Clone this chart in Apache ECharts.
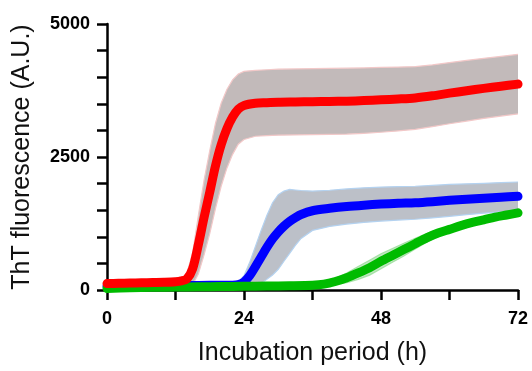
<!DOCTYPE html>
<html>
<head>
<meta charset="utf-8">
<script src="https://cdn.jsdelivr.net/npm/echarts@6/dist/echarts.min.js"></script>
<style>
  html, body { margin: 0; padding: 0; background: #fff; }
  #chart { width: 532px; height: 371px; }
</style>
</head>
<body>
<div id="chart"></div>
<script>
// hours and ThT values (mean, SD)
const redHours = [0, 2, 4, 6, 8, 10, 12, 13, 14, 15, 16, 17, 18, 19, 20, 21, 22, 23, 24, 26, 28, 30, 33, 36, 39, 42, 45, 48, 51, 54, 57, 60, 63, 66, 69, 72]
const redMean = [120, 125, 130, 135, 140, 145, 155, 170, 210, 400, 850, 1360, 1840, 2330, 2730, 3030, 3250, 3400, 3470, 3510, 3520, 3530, 3535, 3540, 3545, 3550, 3560, 3575, 3590, 3610, 3650, 3700, 3745, 3790, 3830, 3870]
const redSd = [30, 30, 30, 30, 30, 30, 30, 40, 100, 300, 550, 700, 780, 800, 780, 740, 700, 660, 640, 620, 620, 620, 620, 620, 620, 620, 615, 610, 600, 590, 580, 575, 570, 565, 560, 560]

const blueHours = [0, 4, 8, 12, 16, 20, 22, 23, 24, 25, 26, 27, 28, 29, 30, 31, 32, 33, 34, 36, 39, 42, 45, 48, 51, 54, 57, 60, 63, 66, 69, 72]
const blueMean = [70, 75, 80, 85, 85, 90, 90, 100, 150, 270, 440, 620, 800, 960, 1090, 1200, 1290, 1360, 1420, 1490, 1535, 1570, 1595, 1615, 1630, 1640, 1660, 1685, 1705, 1725, 1745, 1760]
const blueSd = [15, 15, 15, 15, 15, 20, 30, 50, 120, 250, 380, 500, 600, 680, 700, 660, 600, 520, 450, 370, 340, 330, 325, 320, 315, 310, 305, 300, 290, 280, 275, 270]

const greenHours = [0, 4, 8, 12, 16, 20, 24, 28, 32, 36, 38, 40, 42, 44, 46, 48, 50, 52, 54, 56, 58, 60, 62, 64, 66, 68, 70, 72]
const greenMean = [30, 40, 50, 55, 60, 65, 70, 75, 80, 90, 110, 160, 230, 320, 420, 540, 650, 760, 870, 980, 1070, 1140, 1210, 1270, 1320, 1370, 1410, 1450]
const greenSd = [15, 15, 15, 15, 15, 15, 15, 15, 20, 25, 40, 60, 90, 120, 140, 140, 130, 120, 100, 80, 70, 60, 50, 45, 40, 40, 40, 40]

const xTicks = [0, 24, 48, 72]
const yTicks = [0, 2500, 5000]

const FONT = '"Liberation Sans", Arial, sans-serif'

// mean ± SD band, drawn as one polygon through the axis scales
function band(hours, mean, sd, fill, edge) {
  return {
    type: 'custom',
    silent: true,
    z: 1,
    data: [[hours[0], mean[0]]],
    clip: true,
    renderItem: (params, api) => {
      const up = hours.map((t, i) => api.coord([t, mean[i] + sd[i]]))
      const lo = hours.map((t, i) => api.coord([t, mean[i] - sd[i]]))
      return {
        type: 'group',
        children: [
          { type: 'polygon', shape: { points: up.concat(lo.slice().reverse()) }, style: { fill: fill } },
          { type: 'polyline', shape: { points: up }, style: { stroke: edge, lineWidth: 1.2, fill: null } },
          { type: 'polyline', shape: { points: lo }, style: { stroke: edge, lineWidth: 1.2, fill: null } },
        ],
      }
    },
  }
}

function meanLine(hours, mean, color) {
  return {
    type: 'line',
    data: hours.map((t, i) => [t, mean[i]]),
    symbol: 'none',
    smooth: 0.3,
    z: 3,
    lineStyle: { color: color, width: 9, cap: 'round', join: 'round' },
  }
}

const chart = echarts.init(document.getElementById('chart'), null, { renderer: 'canvas' })

chart.setOption({
  animation: false,
  backgroundColor: '#fff',
  grid: { left: 107, right: 14, top: 24, bottom: 74 },
  xAxis: {
    type: 'value',
    min: 0,
    max: 72,
    interval: 12,
    name: 'Incubation period (h)',
    nameLocation: 'middle',
    nameGap: 51,
    nameTextStyle: { fontFamily: FONT, fontSize: 25, color: '#111' },
    axisLine: { onZero: false, lineStyle: { color: '#000', width: 2.5 } },
    axisTick: { length: 10, lineStyle: { color: '#000', width: 2.5 } },
    axisLabel: {
      margin: 20,
      fontFamily: FONT,
      fontSize: 18,
      fontWeight: 'bold',
      color: '#000',
      formatter: v => (xTicks.includes(v) ? String(v) : ''),
    },
    splitLine: { show: false },
  },
  yAxis: {
    type: 'value',
    min: 0,
    max: 5000,
    interval: 500,
    name: 'ThT fluorescence (A.U.)',
    nameLocation: 'middle',
    nameGap: 72,
    nameTextStyle: { fontFamily: FONT, fontSize: 25, color: '#111' },
    axisLine: { show: true, onZero: false, lineStyle: { color: '#000', width: 2.5 } },
    axisTick: { show: true, length: 10, lineStyle: { color: '#000', width: 2.5 } },
    axisLabel: {
      margin: 17,
      fontFamily: FONT,
      fontSize: 18,
      fontWeight: 'bold',
      color: '#000',
      formatter: v => (yTicks.includes(v) ? String(v) : ''),
    },
    splitLine: { show: false },
  },
  series: [
    band(redHours, redMean, redSd, '#c2baba', '#f2c8c8'),
    band(blueHours, blueMean, blueSd, '#bcc0c8', '#b4d2f0'),
    band(greenHours, greenMean, greenSd, 'rgba(120,200,120,0.45)', 'rgba(150,220,150,0.8)'),
    meanLine(blueHours, blueMean, '#0000ff'),
    meanLine(greenHours, greenMean, '#00bb00'),
    meanLine(redHours, redMean, '#ff0000'),
  ],
})
</script>
</body>
</html>
